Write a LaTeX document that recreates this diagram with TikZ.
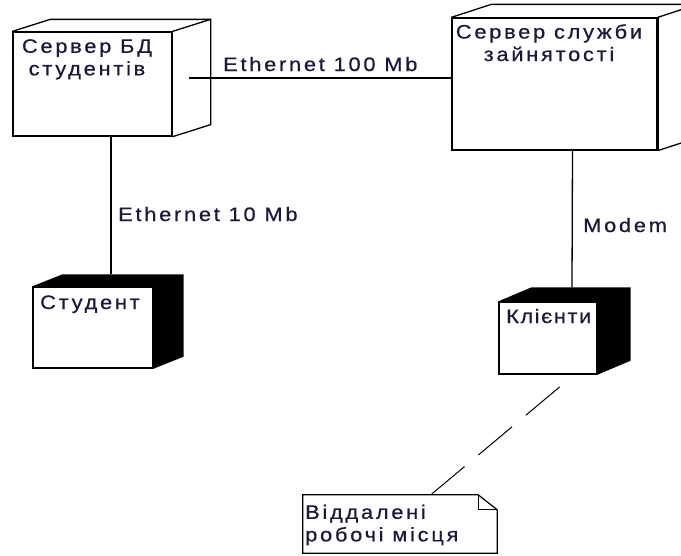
\documentclass[tikz,border=0pt]{standalone}
\usepackage{fontspec}
\setmainfont{Liberation Sans}[LetterSpace=14, FakeStretch=1.12, FakeBold=0.6]
\usetikzlibrary{calc,backgrounds}
\definecolor{txt}{RGB}{25,25,60}
\tikzset{
  face/.style={draw=black, line width=1.3pt, fill=white, rectangle, inner sep=0pt},
  edge/.style={draw=black, line width=1.3pt, line join=miter},
  lbl/.style={font=\fontsize{19.5}{22.5}\selectfont, text=txt, inner sep=0pt},
  conn/.style={draw=black, line width=1.3pt},
  notelink/.style={draw=black, line width=1pt, dash pattern=on 44pt off 18pt},
}
\begin{document}
\begin{tikzpicture}[x=1pt,y=-1pt]
\useasboundingbox (0,0) rectangle (681,555);
\clip (0,0) rectangle (681,555);

% --- Server BD students
\node[face, minimum width=159pt, minimum height=104pt] (srv1) at (92.5,84) {};
\draw[edge] (srv1.north west) -- ++(38,-12) -- ($(srv1.north east)+(38,-12)$)
  -- ($(srv1.south east)+(38,-12)$) -- (srv1.south east);
\draw[edge] (srv1.north east) -- ++(38,-12);
\node[lbl, align=center, anchor=north] (srv1t) at (87,39) {Сервер БД\\студентів};

% --- Server employment
\node[face, minimum width=205pt, minimum height=132pt] (srv2) at (554.5,84) {};
\draw[edge] (srv2.north west) -- ++(40,-13) -- ($(srv2.north east)+(40,-13)$)
  -- ($(srv2.south east)+(40,-13)$) -- (srv2.south east);
\draw[edge] (srv2.north east) -- ++(40,-13);
\draw[line width=2.6pt] (srv2.north east) -- (srv2.south east);
\node[lbl, align=center, anchor=north] (srv2t) at (549,24) {Сервер служби\\зайнятості};

% --- Student
\node[face, minimum width=120pt, minimum height=81pt] (stud) at (93,327.5) {};
\begin{scope}[on background layer]
\fill[black] (stud.north west) -- ++(30,-12) -- ($(stud.north east)+(30,-12)$)
  -- ($(stud.south east)+(30,-12)$) -- (stud.south east) -- (stud.north east) -- cycle;
\end{scope}
\node[lbl, anchor=base west] (studt) at (40,309) {Студент};

% --- Clients
\node[face, minimum width=98pt, minimum height=72pt] (client) at (548,338) {};
\begin{scope}[on background layer]
\fill[black] (client.north west) -- ++(33,-14) -- ($(client.north east)+(33,-14)$)
  -- ($(client.south east)+(33,-14)$) -- (client.south east) -- (client.north east) -- cycle;
\end{scope}
\node[lbl, anchor=base west] (clientt) at (506,323) {\addfontfeature{LetterSpace=8}Клієнти};

% --- Note
\node[minimum width=194pt, minimum height=58pt, inner sep=0pt] (note) at (400,524) {};
\draw[edge, line width=1.2pt, fill=white] (note.north west) -- ($(note.north east)+(-19,0)$)
  -- ($(note.north east)+(0,15)$) -- (note.south east) -- (note.south west) -- cycle;
\draw[edge, line width=1.2pt] ($(note.north east)+(-19,0)$) -- ++(0,15) -- ++(19,0);
\node[lbl, align=left, anchor=north west] (notet) at (305,504.5) {Віддалені\\робочі місця};

% --- Connectors
\coordinate (s1side) at ($(srv1.east)+(16,-6)$);
\draw[conn] (s1side) -- (s1side -| srv2.west);
\node[lbl, anchor=base west] (e100) at (223,71) {Ethernet 100 Mb};

\draw[conn] ($(srv1.south)+(18.5,0)$) -- ($(stud.north)+(18,-12)$);
\node[lbl, anchor=base west] (e10) at (118,221) {Ethernet 10 Mb};

\draw[conn] ($(srv2.south)+(18,0)$) -- ($(client.north)+(24,-14)$);
\node[lbl, anchor=base west] (modem) at (583,232) {Modem};

\coordinate (dend) at ($(client.south)+(12,12)$);
\draw[notelink] ($(note.north west)+(128,0)$) -- (dend);
\end{tikzpicture}
\end{document}
